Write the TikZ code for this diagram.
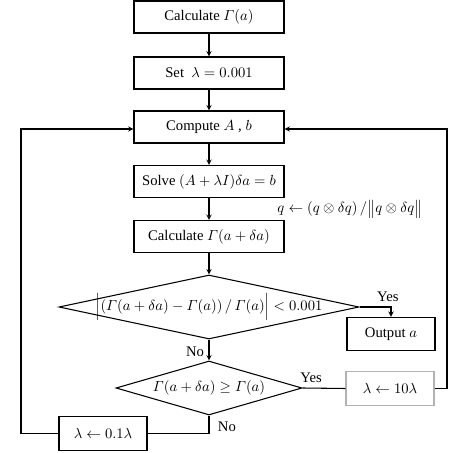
\documentclass[tikz,border=0pt]{standalone}
\usepackage{amsmath,amssymb}
\usepackage{fontspec}
\setmainfont{Liberation Serif}
\usetikzlibrary{shapes.geometric}

\tikzset{
  stepbox/.style={draw,thick,minimum width=112.5pt,minimum height=24pt,inner sep=1pt},
  smallbox/.style={draw,thick,minimum width=66pt,minimum height=25pt,inner sep=1pt},
  testbox/.style={draw,thick,diamond,inner sep=0pt},
  lbl/.style={inner sep=1pt}
}

\begin{document}
\begin{tikzpicture}[>=stealth,thick,x=0.75pt,y=-0.75pt,font=\fontsize{11}{13}\selectfont]
		  \useasboundingbox (0,0) rectangle (465,453);
		  \node[stepbox] (calc) at (209,17) {Calculate $\varGamma(a)$};
		  \node[stepbox] (setl) at (209,73) {Set\ \ $\lambda = 0.001$};
		  \node[stepbox] (comp) at (209,127) {Compute $A$ , $b$};
		  \node[stepbox] (solve) at (209,181.5) {Solve $(A+\lambda I)\delta a = b$};
		  \node[stepbox] (calc2) at (209,236.5) {Calculate $\varGamma(a+\delta a)$};
		  \node[lbl] (upd) at (350,209) {$q \leftarrow (q\otimes\delta q)\,/\bigl\|q\otimes\delta q\bigr\|$};
		  \node[testbox,aspect=4.69,minimum width=225pt,minimum height=48pt,
		    label=center:{$\Bigl|(\varGamma(a+\delta a)-\varGamma(a))\,/\,\varGamma(a)\Bigr|<0.001$}] (dec1) at (209,307) {};
		  \node[smallbox] (out) at (391,334) {Output $a$};
		  \node[testbox,aspect=3.44,minimum width=139.5pt,minimum height=40.5pt,
		    label=center:{$\varGamma(a+\delta a)\geq\varGamma(a)$}] (dec2) at (209,388) {};
		  \node[smallbox,draw=gray!60] (up) at (390,388.5) {$\lambda\leftarrow 10\lambda$};
		  \node[smallbox] (down) at (103,433.5) {$\lambda\leftarrow 0.1\lambda$};
		  \coordinate (rt) at (447,129);
		  \coordinate (lf) at (21,129);
		  \draw[->] (calc) -- (setl);
		  \draw[->] (setl) -- (comp);
		  \draw[->] (comp) -- (solve);
		  \draw[->] (solve) -- (calc2);
		  \draw[->] (calc2) -- (dec1);
		  \draw[->] (dec1) -- node[left,pos=0.6] {No} (dec2);
		  \draw[->] (dec1.east) -| node[pos=0.45,above] {Yes} (out.north);
		  \draw (dec2.east) -- node[pos=0.2,above] {Yes} (up.west);
		  \draw[->] (up.east) -| (rt) -- (rt -| comp.east);
		  \draw (dec2.south) |- node[pos=0.3,right=3pt] {No} (down.east);
		  \draw[->] (down.west) -| (lf) -- (lf -| comp.west);
		\end{tikzpicture}
\end{document}
